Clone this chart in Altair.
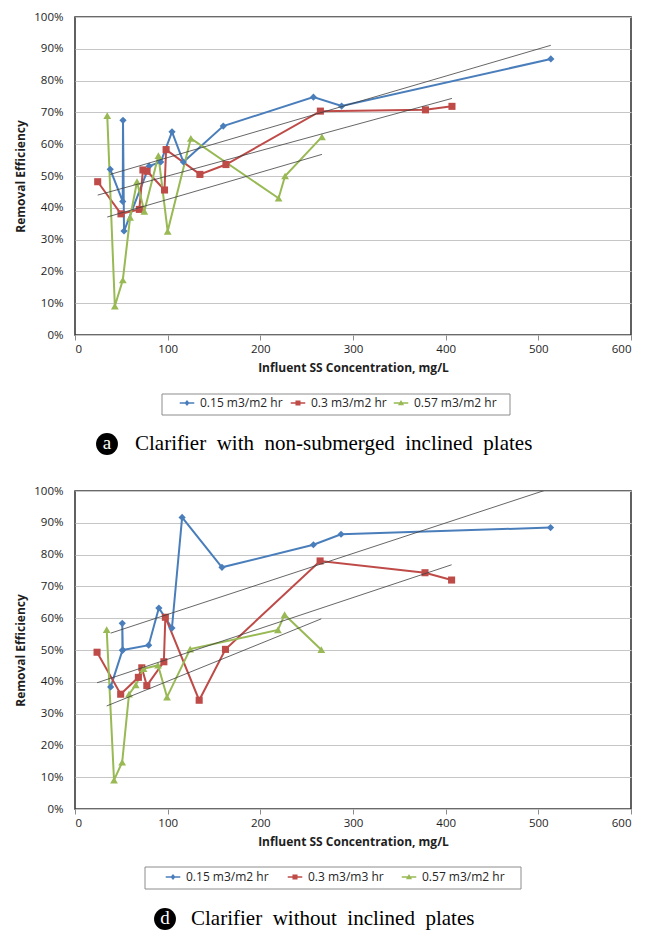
import altair as alt
import pandas as pd

# ---------------- data ----------------
X_TICKS = [0, 100, 200, 300, 400, 500, 600]
Y_TICKS = [0, 0.1, 0.2, 0.3, 0.4, 0.5, 0.6, 0.7, 0.8, 0.9, 1.0]

A_LABELS = ["0.15 m3/m2 hr", "0.3 m3/m2 hr", "0.57 m3/m2 hr"]
D_LABELS = ["0.15 m3/m2 hr", "0.3 m3/m3 hr", "0.57 m3/m2 hr"]

# Panel a: clarifier with non-submerged inclined plates
A_BLUE_X = [38.0, 51.5, 51.8, 52.9, 80.0, 92.5, 104.7, 117.0, 160.0, 257.3, 287.7, 513.5]
A_BLUE_Y = [52.1, 42.0, 67.5, 32.7, 53.1, 54.4, 63.9, 54.4, 65.7, 74.8, 72.0, 86.8]
A_RED_X = [24.5, 49.6, 69.4, 73.3, 77.8, 96.6, 98.3, 134.8, 162.9, 264.8, 378.2, 406.8]
A_RED_Y = [48.2, 38.1, 39.5, 51.9, 51.5, 45.6, 58.3, 50.5, 53.6, 70.4, 70.8, 71.9]
A_GREEN_X = [34.8, 43.0, 51.6, 59.5, 66.9, 74.8, 90.0, 100.0, 125.0, 219.7, 226.7, 266.5]
A_GREEN_Y = [69.0, 9.1, 17.3, 37.0, 48.2, 38.9, 56.4, 32.6, 61.8, 43.0, 50.0, 62.3]

A_TREND_X = [[38.0, 513.5], [24.5, 406.8], [34.8, 266.5]]
A_TREND_Y = [[50.5, 91.1], [44.0, 74.4], [37.1, 56.8]]

# Panel d: clarifier without inclined plates
D_BLUE_X = [38.5, 51.2, 51.0, 51.6, 79.5, 90.5, 104.6, 115.6, 158.6, 257.3, 287.1, 513.2]
D_BLUE_Y = [38.4, 49.9, 58.4, 50.0, 51.5, 63.2, 56.9, 91.7, 76.0, 83.1, 86.4, 88.5]
D_RED_X = [23.8, 49.3, 68.4, 72.1, 77.5, 95.9, 97.5, 134.0, 162.4, 264.5, 377.7, 406.4]
D_RED_Y = [49.3, 36.1, 41.4, 44.4, 38.8, 46.3, 60.3, 34.2, 50.2, 78.0, 74.3, 72.0]
D_GREEN_X = [34.2, 42.1, 50.9, 58.3, 65.6, 74.0, 89.6, 99.3, 124.3, 219.0, 226.2, 265.8]
D_GREEN_Y = [56.4, 9.1, 14.7, 36.1, 39.0, 44.1, 45.2, 35.2, 50.3, 56.3, 61.1, 50.1]

D_TREND_X = [[38.5, 513.2], [23.8, 406.4], [34.2, 265.8]]
D_TREND_Y = [[55.3, 100.8], [39.7, 76.8], [32.4, 59.8]]

A_CAPTION = "Clarifier with non-submerged inclined plates"
D_CAPTION = "Clarifier without inclined plates"

# ---------------- styling / layout ----------------
COLORS = ["#4A7EBB", "#BE4B48", "#98B954"]
SHAPES = ["diamond", "square", "triangle-up"]
SIZES = [52, 50, 60]
LEG_PATHS = [
    "M-2.3,-0.22H2.3V0.22H-2.3ZM0,-0.95L0.8,0L0,0.95L-0.8,0Z",
    "M-2.3,-0.22H2.3V0.22H-2.3ZM-0.8,-0.8H0.8V0.8H-0.8Z",
    "M-2.3,-0.22H2.3V0.22H-2.3ZM0,-0.95L0.95,0.75H-0.95Z",
]
SANS = "Open Sans"
SERIF = "Liberation Serif"
LEG_SIZE = 40

A_LAYOUT = dict(leg_xs=[106, 217, 320], leg_y=380, box=(87, 435, 377, 398), circ_x=32, cap_x=60, cap_y=427)
D_LAYOUT = dict(leg_xs=[92, 214, 328], leg_y=380, box=(70, 446, 376, 398), circ_x=90, cap_x=116, cap_y=428)


def frame(labels, xs, ys):
    rows = []
    for lab, xv, yv in zip(labels, xs, ys):
        for i, (x, y) in enumerate(zip(xv, yv)):
            rows.append({"series": lab, "idx": i, "conc": x, "eff": y / 100.0})
    return pd.DataFrame(rows)


def sep(text):
    return "\u00a0 ".join(text.split(" "))


def panel(labels, xs, ys, txs, tys, caption, letter, lay):
    df = frame(labels, xs, ys)
    tdf = frame(labels, txs, tys)
    xenc = alt.X(
        "conc:Q",
        scale=alt.Scale(domain=[0, 600], nice=False, zero=True),
        axis=alt.Axis(values=X_TICKS, format="d", title="Influent SS Concentration, mg/L",
                      grid=False, domain=False, ticks=True, tickSize=5, tickColor="#8c8c8c",
                      labelPadding=3, titlePadding=8),
    )
    yenc = alt.Y(
        "eff:Q",
        scale=alt.Scale(domain=[0, 1], nice=False),
        axis=alt.Axis(values=Y_TICKS, format=".0%", title="Removal Efficiency",
                      grid=True, gridColor="#c6c6c6", gridWidth=1, domain=False, ticks=False,
                      labelPadding=12, titlePadding=6),
    )
    base = alt.Chart(df)
    layers = [base.mark_line(strokeWidth=2).encode(
        x=xenc, y=yenc,
        stroke=alt.Stroke("series:N", scale=alt.Scale(domain=labels, range=COLORS), legend=None),
        order="idx:Q",
    )]
    for lab, col, shp, sz in zip(labels, COLORS, SHAPES, SIZES):
        layers.append(
            base.transform_filter(alt.datum.series == lab)
            .mark_point(filled=True, opacity=1, size=sz, shape=shp, color=col)
            .encode(x=xenc, y=yenc)
        )
    layers.append(alt.Chart(tdf).mark_line(strokeWidth=0.8, color="#3f3f3f", clip=True).encode(
        x=xenc, y=yenc, detail="series:N", order="idx:Q"
    ))
    # legend: one entry per series, framed by a box
    for lab, col, path, lx in zip(labels, COLORS, LEG_PATHS, lay["leg_xs"]):
        layers.append(
            base.transform_filter(alt.datum.series == lab)
            .mark_point(filled=True, opacity=1, clip=True, size=LEG_SIZE)
            .encode(
                x=alt.value(-300), y=alt.value(-300),
                color=alt.Color("series:N", scale=alt.Scale(domain=[lab], range=[col]),
                                legend=alt.Legend(
                                    title=None, orient="none", legendX=lx, legendY=lay["leg_y"],
                                    padding=0, symbolType=path, symbolSize=LEG_SIZE,
                                    symbolOpacity=1, symbolStrokeWidth=0, labelOffset=7,
                                    labelFont=SANS, labelFontSize=12, labelColor="#262626",
                                )),
            )
        )
    cdf = pd.DataFrame({"caption": [sep(caption)], "letter": [letter]})
    cap = alt.Chart(cdf)
    bx0, bx1, by0, by1 = lay["box"]
    layers.append(cap.mark_rect(fillOpacity=0, stroke="#8c8c8c", strokeWidth=1).encode(
        x=alt.value(bx0), x2=alt.value(bx1), y=alt.value(by0), y2=alt.value(by1)
    ))
    layers.append(cap.mark_point(shape="circle", filled=True, opacity=1, color="black", size=480).encode(
        x=alt.value(lay["circ_x"]), y=alt.value(lay["cap_y"])
    ))
    layers.append(cap.mark_text(color="white", font=SERIF, fontSize=19, align="center", baseline="middle", dy=-1).encode(
        x=alt.value(lay["circ_x"]), y=alt.value(lay["cap_y"]), text="letter:N"
    ))
    layers.append(cap.mark_text(color="black", font=SERIF, fontSize=21, align="left", baseline="middle").encode(
        x=alt.value(lay["cap_x"]), y=alt.value(lay["cap_y"]), text="caption:N"
    ))
    return alt.layer(*layers).resolve_scale(color="independent").resolve_legend(color="independent").properties(
        width=556, height=318
    )


panel_a = panel(A_LABELS, [A_BLUE_X, A_RED_X, A_GREEN_X], [A_BLUE_Y, A_RED_Y, A_GREEN_Y],
                A_TREND_X, A_TREND_Y, A_CAPTION, "a", A_LAYOUT)
panel_d = panel(D_LABELS, [D_BLUE_X, D_RED_X, D_GREEN_X], [D_BLUE_Y, D_RED_Y, D_GREEN_Y],
                D_TREND_X, D_TREND_Y, D_CAPTION, "d", D_LAYOUT)

chart = alt.vconcat(panel_a, panel_d, spacing=28).resolve_scale(
    color="independent", stroke="independent"
).resolve_legend(
    color="independent"
).properties(
    padding={"left": 5, "top": 2, "right": 5, "bottom": 2}
).configure_view(
    stroke="#3a3a3a", strokeWidth=1.6
).configure_axis(
    labelFont=SANS, labelFontSize=11.5, labelColor="#1e1e1e",
    titleFont=SANS, titleFontSize=12, titleFontWeight="bold", titleColor="#1e1e1e",
)

chart.save("out.html", embed_options={"renderer": "svg", "actions": False})
